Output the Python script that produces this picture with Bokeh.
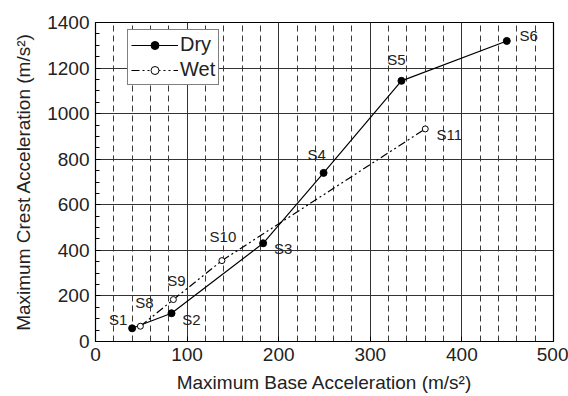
from bokeh.plotting import figure
from bokeh.models import ColumnDataSource, Range1d, Legend, LegendItem, SingleIntervalTicker
from bokeh.core.properties import value
from bokeh.embed import file_html
from bokeh.resources import INLINE

# Data
dry_x = [40, 83, 183, 249, 334, 449]
dry_y = [58, 124, 431, 740, 1144, 1319]
dry_labels = ["S1", "S2", "S3", "S4", "S5", "S6"]
wet_x = [49, 85, 138, 360]
wet_y = [67, 184, 355, 933]
wet_labels = ["S8", "S9", "S10", "S11"]

# label offsets (screen px)
dry_dx = [-14, 20, 20, -7, -5, 22]
dry_dy = [-9, 6, 5, -18, -21, -5]
wet_dx = [4, 3, 1, 24]
wet_dy = [-24, -19, -24, 6]

FONT = "Liberation Sans"

p = figure(width=568, height=396, output_backend="svg", toolbar_location=None,
           x_range=Range1d(0, 500), y_range=Range1d(0, 1400),
           min_border_left=95, min_border_right=15, min_border_top=22, min_border_bottom=55)
p.background_fill_color = "white"
p.border_fill_color = "white"
p.outline_line_color = "black"
p.outline_line_width = 1.2

p.xaxis.ticker = SingleIntervalTicker(interval=100, num_minor_ticks=5)
p.yaxis.ticker = SingleIntervalTicker(interval=200, num_minor_ticks=4)

for ax in (p.xaxis[0], p.yaxis[0]):
    ax.major_label_text_font = FONT
    ax.major_label_text_font_size = "19px"
    ax.major_label_text_color = "#222"
    ax.axis_label_text_font = FONT
    ax.axis_label_text_font_size = "19px"
    ax.axis_label_text_font_style = "normal"
    ax.axis_label_text_color = "#222"
    ax.axis_line_color = "black"
    ax.major_tick_in = 5
    ax.major_tick_out = 0
    ax.minor_tick_in = 4
    ax.minor_tick_out = 0
    ax.major_tick_line_color = "black"
    ax.minor_tick_line_color = "black"

p.xaxis.minor_tick_line_color = None
p.xaxis.axis_label = "Maximum Base Acceleration (m/s²)"
p.yaxis.axis_label = "Maximum Crest Acceleration (m/s²)"
p.xaxis.major_label_standoff = 6
p.xaxis.axis_label_standoff = 8
p.yaxis.major_label_standoff = 6
p.yaxis.axis_label_standoff = 10

p.xgrid.grid_line_color = "#333"
p.xgrid.grid_line_width = 1
p.xgrid.minor_grid_line_color = "#222"
p.xgrid.minor_grid_line_dash = "6 4"
p.xgrid.minor_grid_line_width = 0.9
p.ygrid.grid_line_color = "#333"
p.ygrid.grid_line_width = 1

dry = ColumnDataSource(dict(x=dry_x, y=dry_y, t=dry_labels, dx=dry_dx, dy=dry_dy))
wet = ColumnDataSource(dict(x=wet_x, y=wet_y, t=wet_labels, dx=wet_dx, dy=wet_dy))

dl = p.line("x", "y", source=dry, line_color="black", line_width=1.2)
dm = p.scatter("x", "y", source=dry, size=7, fill_color="black", line_color="black")
wl = p.line("x", "y", source=wet, line_color="black", line_width=1.2, line_dash="8 3 2 3 2 3")
wm = p.scatter("x", "y", source=wet, size=6, fill_color="white", line_color="black", line_width=1)

for src in (dry, wet):
    p.text("x", "y", text="t", source=src, x_offset="dx", y_offset="dy",
           text_font=value(FONT), text_font_size="15px", text_color="#222",
           text_align="center", text_baseline="middle")

legend = Legend(items=[LegendItem(label="Dry", renderers=[dl, dm]),
                       LegendItem(label="Wet", renderers=[wl, wm])],
                location=(32, 256))
legend.label_text_font = FONT
legend.label_text_font_size = "20px"
legend.label_text_color = "#222"
legend.border_line_color = "black"
legend.border_line_width = 1
legend.glyph_width = 47
legend.glyph_height = 20
legend.label_height = 20
legend.spacing = 2
legend.padding = 3
legend.margin = 0
legend.label_standoff = 2
legend.background_fill_alpha = 1
p.add_layout(legend, "center")

open("out.html", "w").write(file_html(p, INLINE))
